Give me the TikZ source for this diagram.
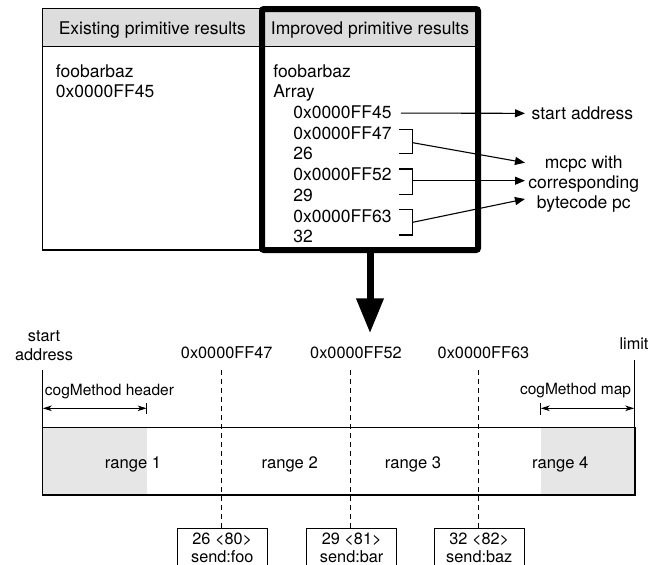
\documentclass[tikz,border=0pt]{standalone}
\usepackage{fontspec}
\setmainfont{TeX Gyre Heros}
\usetikzlibrary{arrows.meta}
\definecolor{hdrgray}{RGB}{221,221,221}
\definecolor{rnggray}{RGB}{230,230,230}
\begin{document}
\begin{tikzpicture}[x=1pt,y=-1pt,line width=1.1pt,
  txt/.style={inner sep=0pt,outer sep=0pt,font=\fontsize{17.5}{21}\selectfont,anchor=base west},
  lbl/.style={inner sep=0pt,outer sep=0pt,font=\fontsize{16.3}{19}\selectfont},
  sml/.style={inner sep=0pt,outer sep=0pt,font=\fontsize{15.5}{18}\selectfont},
  tipar/.style={-{Triangle[length=10pt,width=8pt]}},
  dimar/.style={{Stealth[length=9pt,width=5.5pt,inset=2.5pt]}-{Stealth[length=9pt,width=5.5pt,inset=2.5pt]}},
  dsh/.style={dash pattern=on 5pt off 4pt},
  smallbox/.style={draw,inner xsep=0pt,inner ysep=5pt,outer sep=0pt,align=center,anchor=north,
     minimum width=90pt,font=\fontsize{16.3}{17.4}\selectfont}]
\useasboundingbox (0,0) rectangle (662,565);
\clip (0,0) rectangle (662,565);

% ---------- tables ----------
\fill[hdrgray] (42.7,8.3) rectangle (478,46.7);
\node[draw,inner sep=0pt,outer sep=0pt,minimum width=219.3pt,minimum height=241.7pt,anchor=north west] (exist) at (42.7,8.3) {};
\draw (42.7,46.7) -- (478,46.7);
\node[draw,line width=6pt,rounded corners=2pt,inner sep=0pt,minimum width=216pt,minimum height=241pt] (imp) at (370,129.5) {};

\node[txt,anchor=base] (hl) at (152.3,34.3) {Existing primitive results};
\node[txt,anchor=base] (hr) at (370,34.3) {Improved primitive results};

\node[txt] (l1) at (56,77.3) {foobarbaz};
\node[txt] (l2) at (56,97.8) {0x0000FF45};

\node[txt] (r1) at (273.3,77.3) {foobarbaz};
\node[txt] (r2) at (273.3,97.8) {Array};
\node[txt] (r3) at (293.3,118.8) {0x0000FF45};
\node[txt] (r4) at (293.3,139.3) {0x0000FF47};
\node[txt] (r5) at (293.3,159.8) {26};
\node[txt] (r6) at (293.3,180.8) {0x0000FF52};
\node[txt] (r7) at (293.3,201.3) {29};
\node[txt] (r8) at (293.3,222.3) {0x0000FF63};
\node[txt] (r9) at (293.3,242.8) {32};

% brackets
\draw (399.3,129.3) -| (412.7,153.3) -- (399.3,153.3);
\draw (399.3,169) -| (412.7,194.3) -- (399.3,194.3);
\draw (399.3,209.3) -| (412.7,235) -- (399.3,235);
\coordinate (b1) at (412.7,142.7);
\coordinate (b2) at (412.7,180.7);
\coordinate (b3) at (412.7,222.3);

% right labels
\node[txt] (sa) at (531.7,119.6) {start address};
\node[inner sep=0pt,outer sep=0pt,align=center,font=\fontsize{17.5}{19.7}\selectfont] (mcpc) at (583.7,183.9) {mcpc with\\corresponding\\bytecode pc};
\coordinate (m1) at (525,162.7);
\coordinate (m2) at (525,180.7);
\coordinate (m3) at (525,199);

\draw[tipar] ([xshift=9.3pt,yshift=-0.5pt]r3.east) -- ([xshift=-6.7pt]sa.west);
\draw[tipar] (b1) -- (m1);
\draw[tipar] (b2) -- (m2);
\draw[tipar] (b3) -- (m3);

% big arrow
\coordinate (bigtip) at (370,333.3);
\draw[line width=7pt,-{Triangle[length=35pt,width=26pt]}] (imp.south) -- (bigtip);

% ---------- memory layout ----------
\fill[rnggray] (42.7,427.7) rectangle (146.7,495);
\fill[rnggray] (540.7,427.7) rectangle (635,495);
\node[draw,inner sep=0pt,outer sep=0pt,minimum width=592.3pt,minimum height=67.3pt,anchor=north west] (mem) at (42.7,427.7) {};

\node[lbl,align=center] (saddr) at (44,346) {start\\address};
\coordinate (st) at (42.7,370);
\draw (st) -- (mem.north west);

\node[lbl,anchor=base] (lim) at (634,349.9) {limit};
\coordinate (lt) at (634.3,360);
\draw[line width=1.6pt] (lt) -- (lt |- mem.north);

\node[lbl,anchor=base] (h1) at (226.7,358.6) {0x0000FF47};
\node[lbl,anchor=base] (h2) at (356,358.6) {0x0000FF52};
\node[lbl,anchor=base] (h3) at (483.5,358.6) {0x0000FF63};

% cogMethod header / map
\node[sml,anchor=base west] (cmh) at (45,395) {cogMethod header};
\node[sml,anchor=base east] (cmm) at (631,394.5) {cogMethod map};
\coordinate (hA) at (42.7,408.3);
\coordinate (hB) at (146.7,408.3);
\coordinate (mA) at (540.7,408.3);
\coordinate (mB) at (634.3,408.3);
\draw[dimar] (hA) -- (hB);
\draw ([yshift=-5.6pt]hB) -- ([yshift=5pt]hB);
\draw[dimar] (mA) -- (mB);
\draw ([yshift=-6.6pt]mA) -- ([yshift=5pt]mA);

% ranges
\node[lbl,anchor=base,font=\fontsize{16.6}{19}\selectfont] (rg1) at (133,468.6) {range 1};
\node[lbl,anchor=base,font=\fontsize{16.6}{19}\selectfont] (rg2) at (289.7,468.6) {range 2};
\node[lbl,anchor=base,font=\fontsize{16.6}{19}\selectfont] (rg3) at (413,468.6) {range 3};
\node[lbl,anchor=base,font=\fontsize{16.6}{19}\selectfont] (rg4) at (560.3,468.6) {range 4};

% small boxes
\node[smallbox] (bx1) at (222.3,528.3) {26 <80>\\send:foo};
\node[smallbox] (bx2) at (351.7,528.3) {29 <81>\\send:bar};
\node[smallbox] (bx3) at (479.3,528.3) {32 <82>\\send:baz};

\coordinate (d1) at (221.3,370);
\coordinate (d2) at (350.7,370);
\coordinate (d3) at (478.5,370);
\draw[dsh] (d1) -- (d1 |- bx1.north);
\draw[dsh] (d2) -- (d2 |- bx2.north);
\draw[dsh] (d3) -- (d3 |- bx3.north);
\end{tikzpicture}
\end{document}
